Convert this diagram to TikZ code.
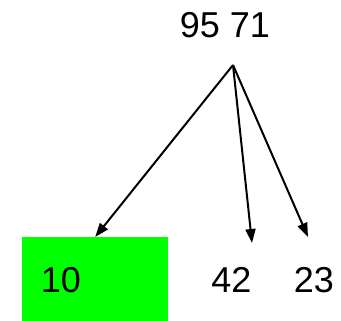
\documentclass[tikz,border=0pt]{standalone}
\usepackage{fontspec}
\setmainfont{Liberation Sans}
\usetikzlibrary{positioning, arrows.meta}

\begin{document}
\begin{tikzpicture}[
  x=1bp, y=-1bp,
  numlbl/.style={font=\fontsize{36bp}{42bp}\selectfont, inner sep=0pt,
    anchor=base},
  leafbox/.style={draw=none, fill=green, inner sep=0pt,
    minimum width=146bp, minimum height=84bp},
  treearr/.style={-{Triangle[length=14bp, width=10bp]}, line width=2bp},
]

\useasboundingbox (0,0) rectangle (341,321);

% Baseline of the leaf row
\def\rL{292}

% ---- Root ----
\node[numlbl] (root) at (225, 37) {95 71};
\coordinate (apex) at (233, 65);

% ---- Leaves ----
\node[leafbox, anchor=north west] (box10) at (22, 237) {};
\node[numlbl] (n10) at (61, \rL) {10};
\node[numlbl] (n42) at (231.5, \rL) {42};
\node[numlbl] (n23) at (314, \rL) {23};
\coordinate (t42) at (252, 243);
\coordinate (t23) at (308, 237);

% ---- Arrows ----
\draw[treearr] (apex) -- (box10.north);
\draw[treearr] (apex) -- (t42);
\draw[treearr] (apex) -- (t23);

\end{tikzpicture}
\end{document}
